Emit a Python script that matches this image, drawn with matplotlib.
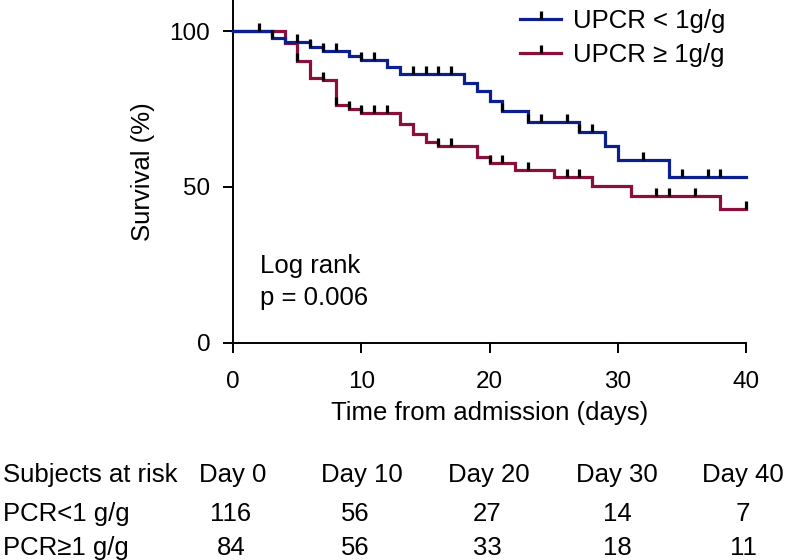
import numpy as np
import matplotlib
matplotlib.use("Agg")
import matplotlib.pyplot as plt
from matplotlib.path import Path
from matplotlib.lines import Line2D

plt.rcParams['font.family'] = ['Liberation Sans', 'DejaVu Sans']

# ---- data ----
low_times = [0, 3, 4, 6, 7, 9, 10, 12, 13, 18, 19, 20, 21, 23, 27, 29, 30, 34]
low_surv = [100, 97.8, 96.6, 94.9, 93.7, 92.1, 90.7, 88.6, 86.2, 83.2, 80.8,
            77.7, 74.5, 71.0, 67.7, 63.1, 58.5, 53.1]
low_censor = [2, 3, 5, 6, 7, 8, 10, 11, 14, 15, 16, 17, 21, 23, 24, 26, 27, 28,
              32, 35, 37, 38]

high_times = [0, 4, 5, 6, 7, 8, 9, 10, 13, 14, 15, 16, 19, 20, 22, 25, 28, 31, 38]
high_surv = [100, 96.2, 90.3, 85.1, 84.2, 76.4, 75.1, 73.7, 70.3, 67.1, 64.4,
             63.1, 59.5, 57.7, 55.3, 53.1, 50.4, 47.2, 42.9]
high_censor = [5, 7, 8, 9, 10, 11, 12, 16, 17, 20, 21, 23, 26, 27, 33, 34, 36, 40]

series_labels = ["UPCR < 1g/g", "UPCR \u2265 1g/g"]
risk_header = ["Day 0", "Day 10", "Day 20", "Day 30", "Day 40"]
risk_rows = ["PCR<1 g/g", "PCR\u22651 g/g"]
risk_low = [116, 56, 27, 14, 7]
risk_high = [84, 56, 33, 18, 11]
t_end = 40

BLUE = '#0b1f8e'
RED = '#8a0f3d'
FS = 18.5
W, H = 787, 560

fig = plt.figure(figsize=(W / 100, H / 100), dpi=100)
ax = fig.add_axes([233.3 / W, 1 - 342.7 / H, (746 - 233.3) / W, 342.7 / H])

censor_marker = Path([(0, 0), (0, 1)], [Path.MOVETO, Path.LINETO])
MS, MEW = 11.5, 2.3


def km(times, surv, censor, color):
    t = np.append(np.array(times, float), t_end)
    s = np.append(np.array(surv, float), surv[-1])
    ax.step(t, s, where='post', color=color, lw=2.3, clip_on=False, zorder=3,
            solid_joinstyle='miter')
    c = np.array(censor, float)
    idx = np.searchsorted(np.array(times, float), c, side='right') - 1
    cs = np.array(surv, float)[idx]
    ax.plot(c, cs, ls='none', marker=censor_marker, ms=MS, mew=MEW,
            mec='black', mfc='none', clip_on=False, zorder=4)


km(high_times, high_surv, high_censor, RED)
km(low_times, low_surv, low_censor, BLUE)

ax.set_xlim(0, 40)
ax.set_ylim(0, 110)
ax.set_xticks([0, 10, 20, 30, 40])
ax.set_yticks([0, 50, 100])
for sp in ['top', 'right']:
    ax.spines[sp].set_visible(False)
for sp in ['left', 'bottom']:
    ax.spines[sp].set_linewidth(1.4)
ax.tick_params(axis='both', length=7.2, width=1.4, labelsize=17.5)
ax.tick_params(axis='x', pad=13.5)
ax.tick_params(axis='y', pad=9.4)

ax.set_xlabel("Time from admission (days)", fontsize=FS, va='baseline')
ax.xaxis.set_label_coords(0.5, (342.7 - 420) / 342.7)
ax.set_ylabel("Survival (%)", fontsize=FS, va='center')
ax.yaxis.set_label_coords((143 - 233.3) / 512.7, 0.5)

ax.text(2.08, 22.4, "Log rank", fontsize=FS, va='baseline', ha='left')
ax.text(2.08, 12.2, "p = 0.006", fontsize=FS, va='baseline', ha='left')

handles = [Line2D([], [], color=BLUE, lw=2.3, marker=censor_marker, ms=MS,
                  mew=MEW, mec='black'),
           Line2D([], [], color=RED, lw=2.3, marker=censor_marker, ms=MS,
                  mew=MEW, mec='black')]
ax.legend(handles, series_labels, loc='upper left',
          bbox_to_anchor=(520 / W, 1 - 9 / H), bbox_transform=fig.transFigure,
          frameon=False, fontsize=FS, borderpad=0, borderaxespad=0,
          handlelength=1.6, handletextpad=0.47, labelspacing=0.4,
          numpoints=1)

# ---- subjects-at-risk table ----
head_x = [233, 362, 489, 617, 743]
num_x = [231, 355, 487, 617, 743]
row_base = [482, 521, 555]
fig.text(3 / W, 1 - row_base[0] / H, "Subjects at risk", fontsize=FS,
         ha='left', va='baseline')
for x, lab in zip(head_x, risk_header):
    fig.text(x / W, 1 - row_base[0] / H, lab, fontsize=FS, ha='center',
             va='baseline')
for r, (name, vals) in enumerate(zip(risk_rows, [risk_low, risk_high])):
    yb = 1 - row_base[r + 1] / H
    fig.text(3 / W, yb, name, fontsize=FS, ha='left', va='baseline')
    for x, v in zip(num_x, vals):
        fig.text(x / W, yb, str(v), fontsize=FS, ha='center', va='baseline')

fig.savefig("out.png", dpi=100)
